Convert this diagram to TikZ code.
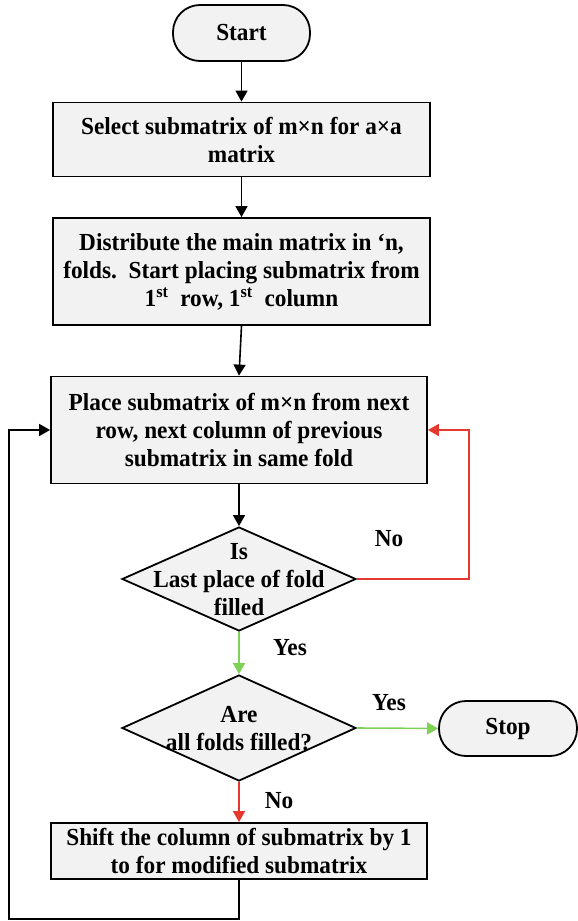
\documentclass[tikz,border=0pt]{standalone}
\usepackage{fontspec}
\setmainfont{Liberation Serif}[FakeStretch=0.95]
\usetikzlibrary{shapes.geometric,arrows.meta}
\definecolor{boxfill}{RGB}{242,242,242}
\definecolor{nored}{RGB}{229,57,48}
\definecolor{yesgreen}{RGB}{125,210,85}
\tikzset{
  base/.style={draw=black,line width=1.8pt,fill=boxfill,inner sep=0pt,align=center,
    font=\fontsize{24.5}{28}\selectfont\bfseries},
  proc/.style={base,rectangle},
  term/.style={base,rectangle,rounded corners=27pt},
  dia/.style={draw=black,line width=1.8pt,fill=boxfill,shape=diamond,inner sep=0pt},
  txt/.style={inner sep=0pt,align=center,font=\fontsize{24.5}{28}\selectfont\bfseries},
  lbl/.style={inner sep=0pt,font=\fontsize{24.5}{28}\selectfont\bfseries},
  conn/.style={line width=1.6pt,-{Triangle[length=11pt,width=12pt]}},
}
\begin{document}
\begin{tikzpicture}[x=1pt,y=-1pt]
\useasboundingbox (0,0) rectangle (578,921);
\node[term,minimum width=137pt,minimum height=56pt] (start) at (241.5,33) {Start};
\node[proc,minimum width=377pt,minimum height=74pt] (b1) at (241.5,139.5) {Select submatrix of m×n for a×a\\matrix};
\node[proc,minimum width=377pt,minimum height=107pt] (b2) at (241.5,271.5) {Distribute the main matrix in ‘n,\\folds.\ \ Start placing submatrix from\\1\textsuperscript{st}\ \ row, 1\textsuperscript{st}\ \ column};
\node[proc,minimum width=376pt,minimum height=107pt] (b3) at (239,430) {Place submatrix of m×n from next\\row, next column of previous\\submatrix in same fold};
\node[dia,minimum width=234pt,minimum height=104pt] (d1) at (239,579) {};
\node[txt] (d1t) at (239,580) {Is\\Last place of fold\\filled};
\node[dia,minimum width=234pt,minimum height=106pt] (d2) at (239,728) {};
\node[txt] (d2t) at (239,729) {Are\\all folds filled?};
\node[term,minimum width=138pt,minimum height=55pt] (stop) at (508,728.5) {Stop};
\node[proc,minimum width=376pt,minimum height=56pt] (b4) at (239,851) {Shift the column of submatrix by 1\\to for modified submatrix};
\coordinate (r1) at (469,579);
\coordinate (r2) at (469,430);
\coordinate (l1) at (239,919);
\coordinate (l2) at (9,919);
\coordinate (l3) at (9,430);
\draw[conn] (start.south) -- (b1.north);
\draw[conn] (b1.south) -- (b2.north);
\draw[conn] (b2.south) -- (b3.north);
\draw[conn] (b3.south) -- (d1.north);
\draw[conn,color=nored] (d1.east) -- (r1) -- (r2) -- (b3.east);
\draw[conn,color=yesgreen] (d1.south) -- (d2.north);
\draw[conn,color=yesgreen] (d2.east) -- (stop.west);
\draw[conn,color=nored] (d2.south) -- (b4.north);
\draw[conn] (b4.south) -- (l1) -- (l2) -- (l3) -- (b3.west);
\node[lbl] (no1) at (389,539) {No};
\node[lbl] (yes1) at (290,648) {Yes};
\node[lbl] (yes2) at (389,703) {Yes};
\node[lbl] (no2) at (279,801) {No};
\end{tikzpicture}
\end{document}
